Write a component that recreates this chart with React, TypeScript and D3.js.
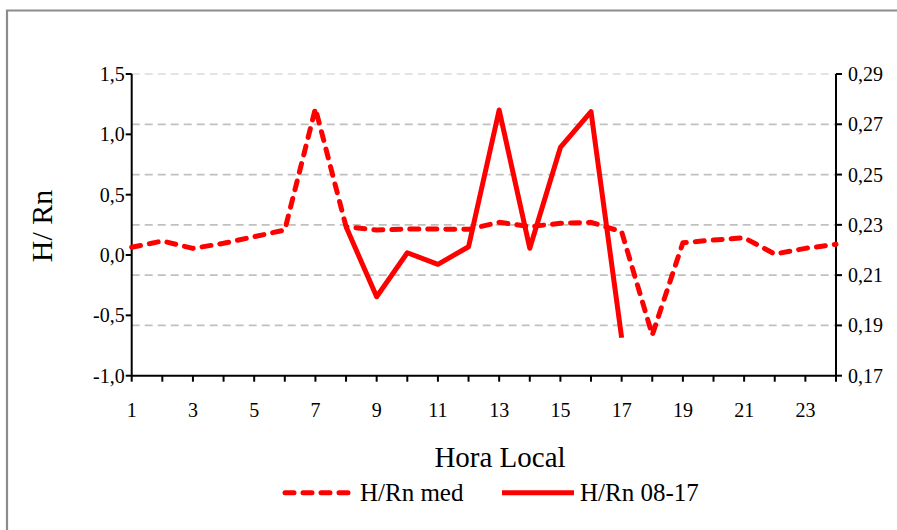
import React from "react";
import * as d3 from "d3";

const hours = [1,2,3,4,5,6,7,8,9,10,11,12,13,14,15,16,17,18,19,20,21,22,23,24];
const medValues = [0.064,0.116,0.055,0.097,0.152,0.207,1.215,0.235,0.207,0.215,0.215,0.213,0.271,0.235,0.263,0.271,0.193,-0.663,0.102,0.124,0.143,0.008,0.055,0.089];
const dayHours = [8,9,10,11,12,13,14,15,16,17];
const dayValues = [0.2292,0.2014,0.2189,0.2143,0.2213,0.2757,0.2207,0.2608,0.2750,0.1851];
const leftTicks = [-1.0,-0.5,0.0,0.5,1.0,1.5];
const rightTicks = [0.17,0.19,0.21,0.23,0.25,0.27,0.29];
const xLabels = [1,3,5,7,9,11,13,15,17,19,21,23];

const W = 897, H = 530;
const left = 131.7, right = 836, top = 74, bottom = 375.7;
const RED = "#ff0000";
const FONT = "'Liberation Serif', 'Times New Roman', serif";

export default function App() {
  const x = d3.scaleLinear().domain([1, 24]).range([left, right]);
  const yL = d3.scaleLinear().domain([-1, 1.5]).range([bottom, top]);
  const yR = d3.scaleLinear().domain([0.17, 0.29]).range([bottom, top]);
  const fmt = (v: number, d: number) => v.toFixed(d).replace(".", ",");

  const medLine = d3.line<number>().x((_, i) => x(hours[i])).y((v) => yL(v))(medValues) as string;
  const dayLine = d3.line<number>().x((_, i) => x(dayHours[i])).y((v) => yR(v))(dayValues) as string;

  return (
    <svg width={W} height={H} style={{ position: "absolute", left: 0, top: 0, background: "#fff" }} fontFamily={FONT}>
      <rect x={0} y={0} width={W} height={H} fill="#fff" />
      <path d={`M7,${H + 5} V10.5 H${W + 5}`} fill="none" stroke="#8c8c8c" strokeWidth={2.2} />
      {/* gridlines */}
      {rightTicks.slice(1).map((t) => (
        <line key={t} x1={left} x2={right} y1={yR(t)} y2={yR(t)}
          stroke={t === 0.29 ? "#e4e4e4" : "#c0c0c0"} strokeWidth={1.8} strokeDasharray="8 5" />
      ))}
      {/* axes */}
      <line x1={left} x2={left} y1={top} y2={bottom} stroke="#000" strokeWidth={2} />
      <line x1={right} x2={right} y1={top} y2={bottom} stroke="#000" strokeWidth={2} />
      <line x1={left} x2={right} y1={bottom} y2={bottom} stroke="#000" strokeWidth={2} />
      {leftTicks.map((t) => (
        <g key={"l" + t}>
          <line x1={left - 6} x2={left} y1={yL(t)} y2={yL(t)} stroke="#000" strokeWidth={2} />
          <text x={left - 7} y={yL(t)} dy="0.35em" textAnchor="end" fontSize={20}>{fmt(t, 1)}</text>
        </g>
      ))}
      {rightTicks.map((t) => (
        <g key={"r" + t}>
          <line x1={right} x2={right + 6} y1={yR(t)} y2={yR(t)} stroke="#000" strokeWidth={2} />
          <text x={right + 12} y={yR(t)} dy="0.35em" textAnchor="start" fontSize={20}>{fmt(t, 2)}</text>
        </g>
      ))}
      {hours.map((h) => (
        <line key={"x" + h} x1={x(h)} x2={x(h)} y1={bottom} y2={bottom + 6} stroke="#000" strokeWidth={2} />
      ))}
      {xLabels.map((h) => (
        <text key={"xl" + h} x={x(h)} y={417} textAnchor="middle" fontSize={20}>{h}</text>
      ))}
      {/* series */}
      <path d={medLine} fill="none" stroke={RED} strokeWidth={5} strokeDasharray="9 9" strokeLinecap="round" strokeLinejoin="round" />
      <path d={dayLine} fill="none" stroke={RED} strokeWidth={5} strokeLinejoin="round" />
      {/* axis titles */}
      <text x={500} y={467} textAnchor="middle" fontSize={29}>Hora Local</text>
      <text transform="translate(52,226) rotate(-90)" textAnchor="middle" fontSize={30}>H/ Rn</text>
      {/* legend */}
      <line x1={285} x2={351} y1={492.7} y2={492.7} stroke={RED} strokeWidth={5} strokeDasharray="9 9" strokeLinecap="round" />
      <text x={360} y={501} fontSize={25}>H/Rn med</text>
      <line x1={502} x2={574} y1={492.7} y2={492.7} stroke={RED} strokeWidth={5} />
      <text x={580} y={501} fontSize={25}>H/Rn 08-17</text>
    </svg>
  );
}
